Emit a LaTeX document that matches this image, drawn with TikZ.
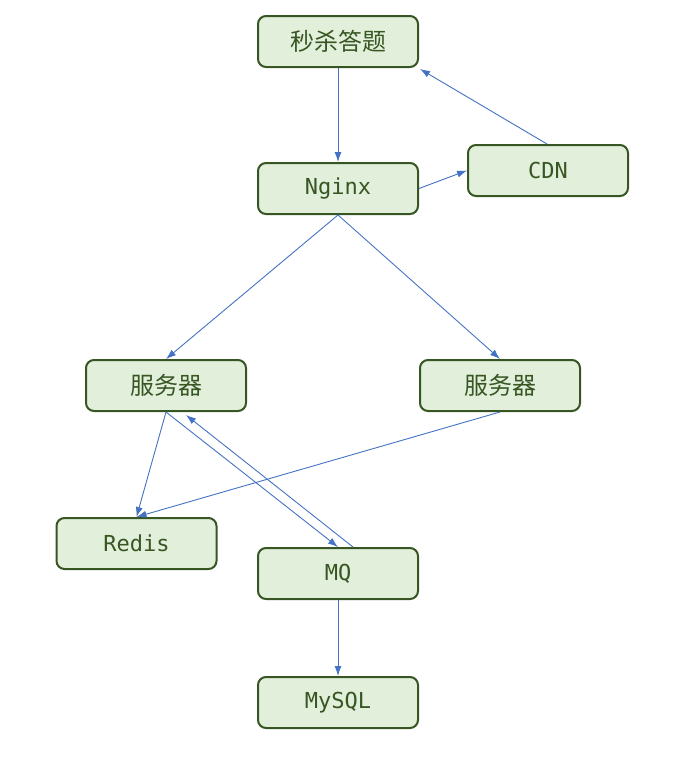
\documentclass[tikz,border=0pt]{standalone}
\usepackage{fontspec}
\setmonofont{DejaVu Sans Mono}
\newfontfamily\cjk{Noto Sans CJK SC}
\usetikzlibrary{arrows.meta,calc}
\definecolor{boxfill}{HTML}{E2EFDA}
\definecolor{boxline}{HTML}{375623}
\definecolor{arrowc}{HTML}{4472C4}
\tikzset{
  box/.style={draw=boxline, fill=boxfill, line width=2pt, rounded corners=8pt,
    minimum width=160pt, minimum height=51pt, inner sep=0pt, text=boxline,
    font=\fontsize{22pt}{24pt}\selectfont\ttfamily},
  cbox/.style={box, font=\fontsize{24pt}{26pt}\selectfont\cjk},
  conn/.style={draw=arrowc, line width=0.9pt, -{Latex[length=10pt,width=7pt]}}
}
\begin{document}
\begin{tikzpicture}[x=1pt,y=-1pt]
\useasboundingbox (0,0) rectangle (685,758);
\node[cbox] (top) at (338,41.5) {秒杀答题};
\node[box] (nginx) at (338,188.5) {Nginx};
\node[box] (cdn) at (548,170.5) {CDN};
\node[cbox] (sl) at (166,385.5) {服务器};
\node[cbox] (sr) at (500,385.5) {服务器};
\node[box] (redis) at (136.5,543.5) {Redis};
\node[box] (mq) at (338,573.5) {MQ};
\node[box] (mysql) at (338,702.5) {MySQL};
\draw[conn] (top.south) -- (nginx.north);
\draw[conn] ([xshift=-1pt]cdn.north) -- ([xshift=1pt,yshift=-1pt]top.south east);
\draw[conn] (nginx.east) -- (cdn.west);
\draw[conn] (nginx.south) -- (sl.north);
\draw[conn] (nginx.south) -- (sr.north);
\draw[conn] (sl.south) -- (redis.north);
\draw[conn] (sl.south) -- (mq.north);
\draw[conn] ([xshift=15pt]mq.north) -- ([xshift=20pt,yshift=-3pt]sl.south);
\draw[conn] (sr.south) -- (redis.north);
\draw[conn] (mq.south) -- (mysql.north);
\end{tikzpicture}
\end{document}
